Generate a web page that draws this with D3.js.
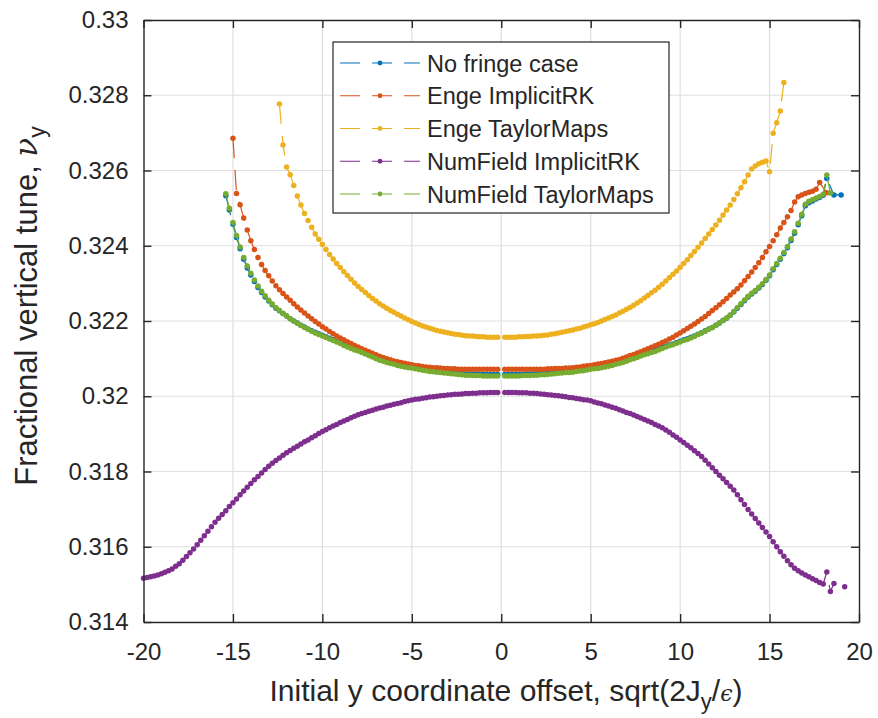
<!DOCTYPE html>
<html>
<head>
<meta charset="utf-8">
<script src="https://cdn.jsdelivr.net/npm/d3@7"></script>
<style>
  body { margin: 0; background: #fff; }
  svg { display: block; }
  text { font-family: "Liberation Sans", Arial, Helvetica, sans-serif; fill: #262626; }
</style>
</head>
<body>
<svg id="chart" width="878" height="718"></svg>
<script>
// Scan grid of initial offsets (sqrt(2Jy/eps)), in steps of 0.2
const offsets = [
  -20,-19.8,-19.6,-19.4,-19.2,-19,-18.8,-18.6,-18.4,-18.2,-18,-17.8,-17.6,-17.4,-17.2,-17,-16.8,-16.6,-16.4,-16.2,
  -16,-15.8,-15.6,-15.4,-15.2,-15,-14.8,-14.6,-14.4,-14.2,-14,-13.8,-13.6,-13.4,-13.2,-13,-12.8,-12.6,-12.4,-12.2,
  -12,-11.8,-11.6,-11.4,-11.2,-11,-10.8,-10.6,-10.4,-10.2,-10,-9.8,-9.6,-9.4,-9.2,-9,-8.8,-8.6,-8.4,-8.2,
  -8,-7.8,-7.6,-7.4,-7.2,-7,-6.8,-6.6,-6.4,-6.2,-6,-5.8,-5.6,-5.4,-5.2,-5,-4.8,-4.6,-4.4,-4.2,
  -4,-3.8,-3.6,-3.4,-3.2,-3,-2.8,-2.6,-2.4,-2.2,-2,-1.8,-1.6,-1.4,-1.2,-1,-0.8,-0.6,-0.4,-0.2,
  0,
  0.2,0.4,0.6,0.8,1,1.2,1.4,1.6,1.8,2,2.2,2.4,2.6,2.8,3,3.2,3.4,3.6,3.8,4,
  4.2,4.4,4.6,4.8,5,5.2,5.4,5.6,5.8,6,6.2,6.4,6.6,6.8,7,7.2,7.4,7.6,7.8,8,
  8.2,8.4,8.6,8.8,9,9.2,9.4,9.6,9.8,10,10.2,10.4,10.6,10.8,11,11.2,11.4,11.6,11.8,12,
  12.2,12.4,12.6,12.8,13,13.2,13.4,13.6,13.8,14,14.2,14.4,14.6,14.8,15,15.2,15.4,15.6,15.8,16,
  16.2,16.4,16.6,16.8,17,17.2,17.4,17.6,17.8,18,18.2,18.4,18.6,18.8,19,19.2,19.4,19.6,19.8,20
];

const seriesNames = ["No fringe case", "Enge ImplicitRK", "Enge TaylorMaps", "NumField ImplicitRK", "NumField TaylorMaps"];
const seriesColors = ["#0072BD", "#D95319", "#EDB120", "#7E2F8E", "#77AC30"];

const xTicks = [-20, -15, -10, -5, 0, 5, 10, 15, 20];
const xTickLabels = ["-20", "-15", "-10", "-5", "0", "5", "10", "15", "20"];
const yTicks = [0.314, 0.316, 0.318, 0.32, 0.322, 0.324, 0.326, 0.328, 0.33];
const yTickLabels = ["0.314", "0.316", "0.318", "0.32", "0.322", "0.324", "0.326", "0.328", "0.33"];

// Tune values: each branch starts at offset `from` and follows the scan grid;
// `extra` holds trailing points off the regular grid.
const noFringeLeft = { from: -15.4, tune: [
  0.32533,0.32495,0.32457,0.32422,0.32392,0.32364,0.32341,0.32322,0.32305,0.32289,
  0.32276,0.32264,0.32253,0.32243,0.32234,0.32227,0.32220,0.32213,0.32206,0.32200,
  0.32195,0.32189,0.32184,0.32179,0.32174,0.32170,0.32166,0.32162,0.32158,0.32154,
  0.32150,0.32146,0.32142,0.32138,0.32134,0.32130,0.32126,0.32123,0.32119,0.32115,
  0.32111,0.32107,0.32104,0.32100,0.32097,0.32094,0.32091,0.32089,0.32086,0.32084,
  0.32082,0.32080,0.32079,0.32077,0.32075,0.32073,0.32072,0.32070,0.32069,0.32068,
  0.32067,0.32066,0.32065,0.32064,0.32063,0.32062,0.32061,0.32060,0.32060,0.32059,
  0.32059,0.32059,0.32058,0.32058,0.32058,0.32058,0.32058] };
const noFringeRight = { from: 0.2, tune: [
  0.32058,0.32058,0.32058,0.32058,0.32058,0.32059,0.32059,0.32059,0.32060,0.32060,
  0.32061,0.32061,0.32062,0.32063,0.32064,0.32065,0.32066,0.32067,0.32067,0.32068,
  0.32070,0.32071,0.32072,0.32074,0.32076,0.32077,0.32078,0.32080,0.32082,0.32084,
  0.32086,0.32089,0.32091,0.32094,0.32097,0.32100,0.32103,0.32106,0.32110,0.32113,
  0.32116,0.32119,0.32122,0.32126,0.32130,0.32133,0.32136,0.32139,0.32143,0.32146,
  0.32150,0.32153,0.32157,0.32160,0.32165,0.32169,0.32174,0.32179,0.32183,0.32189,
  0.32195,0.32201,0.32207,0.32215,0.32224,0.32234,0.32244,0.32254,0.32264,0.32272,
  0.32279,0.32288,0.32297,0.32308,0.32320,0.32336,0.32350,0.32364,0.32379,0.32395,
  0.32414,0.32433,0.32456,0.32480,0.32506,0.32514,0.32519,0.32524,0.32528,0.32534,
  0.32579], extra: [[18.6, 0.32535], [19.0, 0.32535]] };

const engeRKLeft = { from: -15, tune: [
  0.32686,0.32539,0.32509,0.32474,0.32442,0.32413,0.32390,0.32369,0.32350,0.32334,
  0.32320,0.32306,0.32294,0.32283,0.32273,0.32264,0.32255,0.32246,0.32237,0.32229,
  0.32221,0.32213,0.32206,0.32199,0.32192,0.32185,0.32179,0.32172,0.32166,0.32160,
  0.32155,0.32150,0.32145,0.32140,0.32135,0.32131,0.32126,0.32122,0.32118,0.32114,
  0.32110,0.32106,0.32103,0.32100,0.32097,0.32094,0.32092,0.32090,0.32088,0.32086,
  0.32084,0.32082,0.32081,0.32079,0.32078,0.32077,0.32076,0.32076,0.32075,0.32074,
  0.32074,0.32073,0.32073,0.32072,0.32072,0.32072,0.32072,0.32072,0.32072,0.32072,
  0.32072,0.32072,0.32072,0.32072,0.32072] };
const engeRKRight = { from: 0.2, tune: [
  0.32072,0.32072,0.32072,0.32072,0.32072,0.32072,0.32072,0.32072,0.32072,0.32072,
  0.32072,0.32072,0.32073,0.32073,0.32074,0.32074,0.32074,0.32075,0.32075,0.32076,
  0.32077,0.32078,0.32080,0.32081,0.32082,0.32084,0.32086,0.32087,0.32089,0.32091,
  0.32093,0.32096,0.32098,0.32101,0.32104,0.32108,0.32111,0.32115,0.32118,0.32122,
  0.32126,0.32130,0.32134,0.32138,0.32143,0.32147,0.32152,0.32157,0.32163,0.32168,
  0.32174,0.32180,0.32186,0.32192,0.32199,0.32205,0.32212,0.32220,0.32228,0.32235,
  0.32243,0.32251,0.32260,0.32269,0.32277,0.32286,0.32296,0.32307,0.32318,0.32330,
  0.32342,0.32355,0.32369,0.32384,0.32398,0.32413,0.32429,0.32447,0.32462,0.32477,
  0.32494,0.32516,0.32530,0.32535,0.32539,0.32542,0.32545,0.32550,0.32568],
  extra: [[18.2, 0.32541]] };

const engeTMLeft = { from: -12.4, tune: [
  0.32777,0.32668,0.32609,0.32589,0.32560,0.32532,0.32508,0.32486,0.32467,0.32449,
  0.32431,0.32417,0.32403,0.32390,0.32377,0.32365,0.32353,0.32342,0.32331,0.32321,
  0.32311,0.32301,0.32292,0.32284,0.32276,0.32268,0.32260,0.32253,0.32246,0.32240,
  0.32234,0.32228,0.32223,0.32218,0.32213,0.32208,0.32203,0.32199,0.32195,0.32191,
  0.32187,0.32184,0.32181,0.32178,0.32175,0.32173,0.32171,0.32169,0.32167,0.32165,
  0.32164,0.32162,0.32161,0.32160,0.32160,0.32159,0.32158,0.32158,0.32157,0.32157,
  0.32157,0.32157] };
const engeTMRight = { from: 0.2, tune: [
  0.32157,0.32157,0.32157,0.32157,0.32158,0.32158,0.32159,0.32159,0.32160,0.32160,
  0.32161,0.32162,0.32163,0.32165,0.32166,0.32168,0.32170,0.32172,0.32174,0.32176,
  0.32179,0.32181,0.32184,0.32187,0.32190,0.32193,0.32196,0.32200,0.32204,0.32208,
  0.32212,0.32216,0.32221,0.32226,0.32231,0.32236,0.32242,0.32248,0.32254,0.32261,
  0.32268,0.32275,0.32282,0.32290,0.32298,0.32306,0.32315,0.32324,0.32333,0.32343,
  0.32353,0.32363,0.32374,0.32385,0.32396,0.32407,0.32419,0.32431,0.32443,0.32455,
  0.32468,0.32482,0.32495,0.32508,0.32523,0.32538,0.32554,0.32570,0.32588,0.32604,
  0.32612,0.32618,0.32622,0.32625,0.32597,0.32699,0.32727,0.32758,0.32834] };

const numRKLeft = { from: -20, tune: [
  0.31516,0.31518,0.31520,0.31522,0.31525,0.31528,0.31532,0.31536,0.31541,0.31548,
  0.31555,0.31564,0.31574,0.31584,0.31594,0.31605,0.31617,0.31629,0.31641,0.31653,
  0.31665,0.31676,0.31686,0.31696,0.31707,0.31717,0.31727,0.31738,0.31748,0.31758,
  0.31768,0.31778,0.31787,0.31796,0.31805,0.31814,0.31822,0.31829,0.31836,0.31843,
  0.31850,0.31856,0.31862,0.31867,0.31873,0.31879,0.31884,0.31890,0.31895,0.31901,
  0.31906,0.31911,0.31916,0.31921,0.31925,0.31930,0.31934,0.31938,0.31943,0.31947,
  0.31951,0.31954,0.31957,0.31960,0.31963,0.31966,0.31969,0.31971,0.31974,0.31976,
  0.31979,0.31981,0.31983,0.31986,0.31988,0.31990,0.31992,0.31993,0.31995,0.31996,
  0.31998,0.31999,0.32000,0.32001,0.32002,0.32003,0.32004,0.32005,0.32005,0.32006,
  0.32007,0.32007,0.32008,0.32008,0.32009,0.32009,0.32009,0.32010,0.32010,0.32010] };
const numRKRight = { from: 0.2, tune: [
  0.32010,0.32010,0.32010,0.32010,0.32009,0.32009,0.32009,0.32008,0.32008,0.32007,
  0.32006,0.32005,0.32004,0.32003,0.32002,0.32001,0.32000,0.31999,0.31997,0.31996,
  0.31994,0.31993,0.31991,0.31990,0.31988,0.31985,0.31982,0.31980,0.31977,0.31974,
  0.31971,0.31968,0.31964,0.31961,0.31957,0.31954,0.31950,0.31946,0.31942,0.31938,
  0.31934,0.31930,0.31925,0.31921,0.31916,0.31910,0.31904,0.31897,0.31891,0.31884,
  0.31877,0.31870,0.31863,0.31855,0.31848,0.31840,0.31830,0.31820,0.31810,0.31800,
  0.31790,0.31781,0.31771,0.31761,0.31751,0.31738,0.31725,0.31712,0.31699,0.31687,
  0.31675,0.31663,0.31651,0.31639,0.31627,0.31613,0.31600,0.31587,0.31575,0.31563,
  0.31552,0.31543,0.31536,0.31530,0.31525,0.31520,0.31515,0.31510,0.31505,0.31501,
  0.31533,0.31481,0.31502,null,null,0.31494] };

const numTMLeft = { from: -15.4, tune: [
  0.32538,0.32500,0.32462,0.32427,0.32397,0.32369,0.32346,0.32327,0.32309,0.32293,
  0.32279,0.32267,0.32255,0.32245,0.32235,0.32228,0.32220,0.32213,0.32206,0.32200,
  0.32194,0.32188,0.32183,0.32178,0.32173,0.32168,0.32164,0.32160,0.32156,0.32152,
  0.32148,0.32144,0.32140,0.32135,0.32131,0.32127,0.32123,0.32120,0.32116,0.32112,
  0.32108,0.32104,0.32100,0.32096,0.32093,0.32090,0.32087,0.32085,0.32082,0.32080,
  0.32078,0.32076,0.32075,0.32073,0.32071,0.32069,0.32068,0.32066,0.32065,0.32064,
  0.32063,0.32062,0.32061,0.32060,0.32059,0.32058,0.32057,0.32056,0.32056,0.32055,
  0.32055,0.32055,0.32054,0.32054,0.32054,0.32054,0.32054] };
const numTMRight = { from: 0.2, tune: [
  0.32054,0.32054,0.32054,0.32054,0.32054,0.32055,0.32055,0.32055,0.32056,0.32056,
  0.32057,0.32057,0.32058,0.32059,0.32060,0.32061,0.32062,0.32063,0.32063,0.32064,
  0.32066,0.32067,0.32068,0.32070,0.32072,0.32073,0.32074,0.32076,0.32078,0.32080,
  0.32082,0.32085,0.32087,0.32090,0.32093,0.32097,0.32100,0.32103,0.32107,0.32110,
  0.32113,0.32116,0.32119,0.32123,0.32127,0.32131,0.32134,0.32137,0.32141,0.32144,
  0.32148,0.32151,0.32155,0.32159,0.32164,0.32168,0.32173,0.32178,0.32183,0.32189,
  0.32195,0.32202,0.32208,0.32216,0.32225,0.32236,0.32246,0.32256,0.32266,0.32274,
  0.32281,0.32290,0.32299,0.32310,0.32322,0.32339,0.32353,0.32367,0.32382,0.32398,
  0.32418,0.32437,0.32460,0.32484,0.32510,0.32518,0.32522,0.32527,0.32531,0.32537,
  0.32588,0.32540] };

const seriesBranches = [
  [noFringeLeft, noFringeRight],
  [engeRKLeft, engeRKRight],
  [engeTMLeft, engeTMRight],
  [numRKLeft, numRKRight],
  [numTMLeft, numTMRight]
];

// ---- layout ----
const W = 878, H = 718;
const plot = { left: 143.5, right: 859, top: 20, bottom: 622 };
const fontFamily = '"Liberation Sans", Arial, Helvetica, sans-serif';
const axisColor = "#262626";
const gridColor = "#dfdfdf";
const dash = "20,12";
const markerR = 2.75;

const svg = d3.select("#chart");
svg.append("rect").attr("width", W).attr("height", H).attr("fill", "#fff");

const x = d3.scaleLinear().domain([-20, 20]).range([plot.left, plot.right]);
const y = d3.scaleLinear().domain([0.314, 0.33]).range([plot.bottom, plot.top]);

// grid
const grid = svg.append("g").attr("stroke", gridColor).attr("stroke-width", 1.2);
grid.selectAll("line.gx").data(xTicks.slice(1, -1)).join("line")
  .attr("x1", d => x(d)).attr("x2", d => x(d))
  .attr("y1", plot.top).attr("y2", plot.bottom);
grid.selectAll("line.gy").data(yTicks.slice(1, -1)).join("line")
  .attr("y1", d => y(d)).attr("y2", d => y(d))
  .attr("x1", plot.left).attr("x2", plot.right);

// data
function branchPoints(b) {
  const i0 = offsets.indexOf(b.from);
  const pts = b.tune.map((v, i) => ({ x: offsets[i0 + i], y: v }));
  (b.extra || []).forEach(([ox, v]) => pts.push({ x: ox, y: v }));
  return pts;
}
const line = d3.line().defined(d => d.y != null).x(d => x(d.x)).y(d => y(d.y));

const dataLayer = svg.append("g");
seriesBranches.forEach((branches, si) => {
  const g = dataLayer.append("g");
  const color = seriesColors[si];
  branches.forEach(b => {
    const pts = branchPoints(b);
    g.append("path").datum(pts)
      .attr("d", line)
      .attr("fill", "none")
      .attr("stroke", color)
      .attr("stroke-width", 1.2)
      .attr("stroke-dasharray", dash);
    g.selectAll(null).data(pts.filter(d => d.y != null)).join("circle")
      .attr("cx", d => x(d.x)).attr("cy", d => y(d.y))
      .attr("r", markerR).attr("fill", color);
  });
});

// axes (box with inward ticks on all sides)
const tickLen = 8;
const fmtX = (d, i) => xTickLabels[i];
const fmtY = (d, i) => yTickLabels[i];
const axB = svg.append("g").attr("transform", `translate(0,${plot.bottom})`)
  .call(d3.axisBottom(x).tickValues(xTicks).tickFormat(fmtX).tickSizeInner(-tickLen).tickSizeOuter(0).tickPadding(21));
const axT = svg.append("g").attr("transform", `translate(0,${plot.top})`)
  .call(d3.axisTop(x).tickValues(xTicks).tickFormat("").tickSizeInner(-tickLen).tickSizeOuter(0));
const axL = svg.append("g").attr("transform", `translate(${plot.left},0)`)
  .call(d3.axisLeft(y).tickValues(yTicks).tickFormat(fmtY).tickSizeInner(-tickLen).tickSizeOuter(0).tickPadding(15));
const axR = svg.append("g").attr("transform", `translate(${plot.right},0)`)
  .call(d3.axisRight(y).tickValues(yTicks).tickFormat("").tickSizeInner(-tickLen).tickSizeOuter(0));
[axB, axT, axL, axR].forEach(a => {
  a.select(".domain").attr("stroke", axisColor).attr("stroke-width", 1.4);
  a.selectAll(".tick line").attr("stroke", axisColor).attr("stroke-width", 1.4);
  a.selectAll(".tick text").attr("fill", axisColor).style("font-family", fontFamily).style("font-size", "24px");
});

// axis labels
const xl = svg.append("text")
  .attr("x", 506).attr("y", 701)
  .attr("text-anchor", "middle")
  .style("font-size", "30px");
xl.append("tspan").text("Initial y coordinate offset, sqrt(2J");
xl.append("tspan").attr("dy", 8).style("font-size", "22px").text("y");
xl.append("tspan").attr("dy", -8).text("/");
xl.append("tspan").style("font-family", '"DejaVu Serif", serif').style("font-style", "italic").style("font-size", "22px").text("\u03F5");
xl.append("tspan").text(")");

const yl = svg.append("text")
  .attr("transform", "translate(37,306) rotate(-90)")
  .attr("text-anchor", "middle")
  .style("font-size", "31px");
yl.append("tspan").text("Fractional vertical tune, ");
yl.append("tspan").style("font-family", '"DejaVu Serif", serif').style("font-style", "italic").text("\u03BD");
yl.append("tspan").attr("dy", 8).style("font-size", "23px").text("y");

// legend
const leg = { x: 333, y: 42, w: 336, h: 171, row0: 63, pitch: 32.75 };
const lg = svg.append("g");
lg.append("rect").attr("x", leg.x).attr("y", leg.y).attr("width", leg.w).attr("height", leg.h)
  .attr("fill", "#fff").attr("stroke", axisColor).attr("stroke-width", 1.2);
seriesNames.forEach((name, i) => {
  const cy = leg.row0 + i * leg.pitch;
  lg.append("line").attr("x1", 340).attr("x2", 420).attr("y1", cy).attr("y2", cy)
    .attr("stroke", seriesColors[i]).attr("stroke-width", 1.2).attr("stroke-dasharray", dash);
  lg.append("circle").attr("cx", 380).attr("cy", cy).attr("r", 2.4).attr("fill", seriesColors[i]);
  lg.append("text").attr("x", 427).attr("y", cy + 8.5).style("font-size", "23.5px").attr("fill", "#000").text(name);
});
</script>
</body>
</html>
